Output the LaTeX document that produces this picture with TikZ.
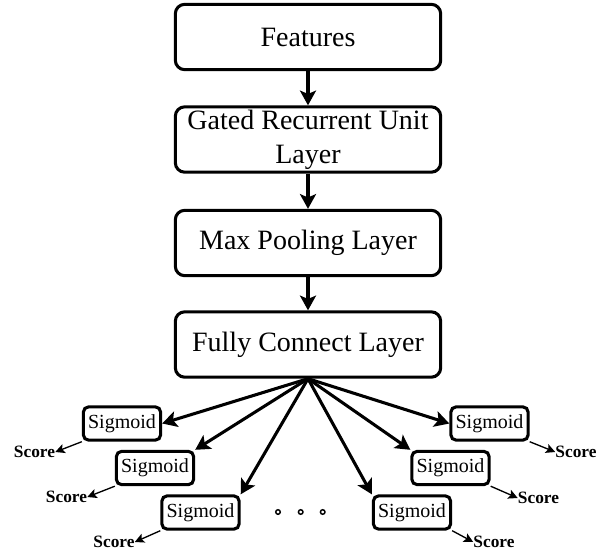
\documentclass[tikz,border=0pt]{standalone}
\usepackage{fontspec}
\setmainfont{Liberation Serif}
\usetikzlibrary{arrows.meta}

\begin{document}
\begin{tikzpicture}[x=0.75pt, y=-0.75pt,
     >={Stealth[length=11pt, width=12pt, inset=2.5pt]},
     layer/.style = {draw=black, line width=2.3pt, rounded corners=7pt,
     minimum width=199pt, minimum height=49pt, inner sep=0pt,
     align=center, font=\fontsize{21}{25.5}\selectfont},
     sig/.style = {draw=black, line width=2.3pt, rounded corners=4pt,
     minimum width=58pt, minimum height=25pt, inner sep=0pt,
     font=\fontsize{15}{18}\selectfont},
     score/.style = {inner sep=0pt, font=\fontsize{13}{15}\selectfont\bfseries},
     feed/.style = {->, line width=2.3pt},
     emit/.style = {-{Stealth[length=7pt, width=7pt, inset=1.5pt]}, line width=1pt}]
        \useasboundingbox (0,0) rectangle (610,554);
        \node [layer] 
            at (308,37)    (feat) {Features};
        \node [layer] 
            at (308,139.5) (gru) {Gated Recurrent Unit\\Layer};
        \node [layer] 
            at (308,243)   (pool) {Max Pooling Layer};
        \node [layer] 
            at (308,344.5) (fc) {Fully Connect Layer};
        \draw [feed] (feat) -- (gru);
        \draw [feed] (gru) -- (pool);
        \draw [feed] (pool) -- (fc);
        \node [sig] at (122,423.5)   (sl1) {Sigmoid};
        \node [sig] at (155,468)     (sl2) {Sigmoid};
        \node [sig] at (200.5,512.5) (sl3) {Sigmoid};
        \node [sig] at (489.5,423.5) (sr1) {Sigmoid};
        \node [sig] at (450.5,468)   (sr2) {Sigmoid};
        \node [sig] at (412,512.5)   (sr3) {Sigmoid};
        \draw [feed] (fc.south) -- (sl1.east);
        \draw [feed] (fc.south) -- (sl2.north east);
        \draw [feed] (fc.south) -- (sl3.north east);
        \draw [feed] (fc.south) -- (sr1.west);
        \draw [feed] (fc.south) -- (sr2.north west);
        \draw [feed] (fc.south) -- (sr3.north west);
        \node [score] at (34.5,452)  (cl1) {Score};
        \node [score] at (66.5,497)  (cl2) {Score};
        \node [score] at (114,542)   (cl3) {Score};
        \node [score] at (576,452)   (cr1) {Score};
        \node [score] at (538.5,498) (cr2) {Score};
        \node [score] at (494,542)   (cr3) {Score};
        \draw [emit] (sl1.south west) -- (cl1.east);
        \draw [emit] (sl2.south west) -- (cl2.east);
        \draw [emit] (sl3.south west) -- (cl3.east);
        \draw [emit] (sr1.south east) -- (cr1.west);
        \draw [emit] (sr2.south east) -- (cr2.west);
        \draw [emit] (sr3.south east) -- (cr3.west);
        \foreach \i/\x in {1/278, 2/300.7, 3/322.7}
            \node [circle, draw, line width=1.1pt, inner sep=0pt, minimum size=3.4pt] 
                at (\x,512) (dot\i) {};
\end{tikzpicture}
\end{document}
